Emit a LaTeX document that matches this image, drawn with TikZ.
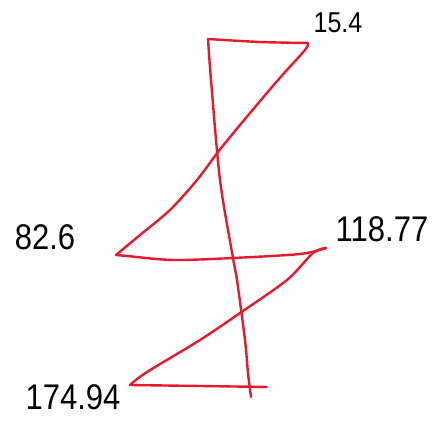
\documentclass[tikz,border=0pt]{standalone}
\usepackage{fontspec}
\setmainfont{Liberation Sans}
\definecolor{penred}{HTML}{E8192C}
\begin{document}
\begin{tikzpicture}[x=1pt,y=-1pt,
  stroke/.style={draw=penred,line width=2.4pt,line cap=round,line join=round},
  lbl/.style={inner sep=0pt,font=\fontsize{31}{31}\selectfont,yscale=1.15}]
\useasboundingbox (0,0) rectangle (437,422);
\coordinate (tl) at (208,39);
\coordinate (tr) at (308,43);
\coordinate (ml) at (116,255);
\coordinate (mr) at (326,248);
\coordinate (bl) at (130,385);
\coordinate (br) at (267,387);
\coordinate (vb) at (251,397);
% strokes
\draw[stroke] plot[smooth,tension=0.5] coordinates {(tl) (260,42) (tr)};
\draw[stroke] plot[smooth,tension=0.5] coordinates {(tr) (305,50) (278,80) (240,125) (218,152) (197,180) (170,210) (140,235) (ml)};
\draw[stroke] plot[smooth,tension=0.5] coordinates {(ml) (127,256) (173,260) (233,258) (300,254) (mr)};
\draw[stroke] plot[smooth,tension=0.5] coordinates {(mr) (313,253) (287,280) (240,313) (200,340) (147,372) (bl)};
\draw[stroke] plot[smooth,tension=0.5] coordinates {(bl) (200,386) (br)};
\draw[stroke] plot[smooth,tension=0.5] coordinates {(tl) (211,80) (220,180) (233,258) (237,280) (245,340) (248,373) (vb)};
% labels
\node[lbl,font=\fontsize{25}{25}\selectfont] (l1) at (338,23) {15.4};
\node[lbl] (l2) at (45,237) {82.6};
\node[lbl] (l3) at (382,229) {118.77};
\node[lbl] (l4) at (73,397) {174.94};
\end{tikzpicture}
\end{document}
